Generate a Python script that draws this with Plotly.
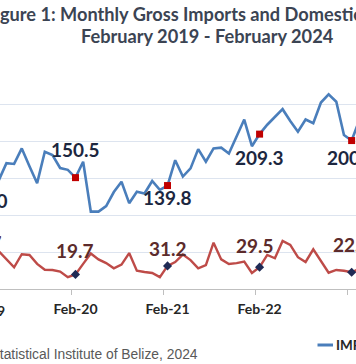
import plotly.graph_objects as go

# ---- data (month index 0 = Feb-19) ----
month_index = list(range(50))
imports = [136.0, 150.0, 147.0, 170.0, 169.0, 190.0, 166.0, 143.0, 185.5, 181.0,
           163.5, 161.0, 150.5, 172.0, 104.5, 104.5, 112.0, 131.0, 145.0, 116.0,
           131.5, 129.0, 146.0, 134.0, 139.8, 174.0, 152.0, 163.0, 189.0, 172.0,
           190.0, 191.0, 183.0, 207.0, 229.0, 193.0, 209.3, 222.0, 232.0, 243.0,
           227.0, 212.5, 229.0, 224.0, 252.0, 263.0, 253.0, 208.0, 200.6, 228.0]
exports = [30.7, 40.0, 51.0, 40.5, 29.3, 47.0, 46.0, 34.0, 26.0, 25.7,
           23.6, 16.0, 19.7, 34.0, 48.0, 40.0, 35.0, 28.0, 33.0, 48.6,
           24.7, 23.0, 21.6, 16.0, 31.2, 36.5, 46.6, 39.0, 28.0, 32.4,
           62.6, 40.0, 33.8, 35.0, 37.0, 21.6, 29.5, 46.0, 41.5, 65.0,
           59.5, 43.0, 36.5, 53.6, 37.0, 22.0, 25.7, 24.7, 22.6, 27.0]
feb_index = [0, 12, 24, 36, 48]
feb_labels = ["Feb-19", "Feb-20", "Feb-21", "Feb-22", "Feb-23"]

title_line1 = "Figure 1: Monthly Gross Imports and Domestic Exports"
title_line2 = "February 2019 - February 2024"
source_text = "Source: Statistical Institute of Belize, 2024"
legend_text = "IMPORTS"

# ---- styling / layout (pixels) ----
W, H = 356, 364
M_T, M_B = 67, 75
PLOT_H = H - M_T - M_B
X_RANGE = [2.16, 48.57]
imp_label_shift = [-12, 28, -12, -23, -17]     # label offsets in px (up +)
exp_label_shift = [24, 24, 17, 22, 28]
exp_label_xshift = [0, 0, 0, -5, 0]

BLUE = "#4a7ebb"
RED = "#be4b48"
LAB_FONT = "Lato"


def px_x(px):
    return px / W


def px_y(py):
    return (H - M_B - py) / PLOT_H


def x_frac(k):
    return (k - X_RANGE[0]) / (X_RANGE[1] - X_RANGE[0])


fig = go.Figure()
fig.add_trace(go.Scatter(x=month_index, y=imports, mode="lines",
                         line=dict(color=BLUE, width=2.6), showlegend=False))
fig.add_trace(go.Scatter(x=month_index, y=exports, mode="lines",
                         line=dict(color=RED, width=2.4), showlegend=False))
fig.add_trace(go.Scatter(x=feb_index, y=[imports[i] for i in feb_index], mode="markers",
                         marker=dict(symbol="square", size=7, color="#c00000"),
                         showlegend=False))
fig.add_trace(go.Scatter(x=feb_index, y=[exports[i] for i in feb_index], mode="markers",
                         marker=dict(symbol="diamond", size=7, color="#1f2a55"),
                         showlegend=False))

annotations = []
for j, k in enumerate(feb_index):
    inside = X_RANGE[0] <= k <= X_RANGE[1]
    xref = "x" if inside else "paper"
    xv = k if inside else x_frac(k)
    annotations.append(dict(x=xv, xref=xref, y=imports[k], yref="y",
                            text=f"{imports[k]:.1f}", showarrow=False,
                            yanchor="middle", xanchor="center",
                            yshift=imp_label_shift[j],
                            font=dict(family=LAB_FONT, size=19, weight="bold", color="#1c2740")))
    annotations.append(dict(x=xv, xref=xref, y=exports[k], yref="y",
                            text=f"{exports[k]:.1f}", showarrow=False,
                            yanchor="middle", xanchor="center",
                            yshift=exp_label_shift[j], xshift=exp_label_xshift[j],
                            font=dict(family=LAB_FONT, size=19, weight="bold", color="#5c2b2b")))
    if not inside:
        annotations.append(dict(x=x_frac(k), xref="paper", y=px_y(310), yref="paper",
                                text=feb_labels[j], showarrow=False,
                                yanchor="middle", xanchor="center",
                                font=dict(family=LAB_FONT, size=14, weight="bold", color="#262626")))

annotations += [
    dict(x=px_x(207.5), y=px_y(14), xref="paper", yref="paper", text=title_line1,
         showarrow=False, xanchor="center", yanchor="middle",
         font=dict(family=LAB_FONT, size=18.2, weight="bold", color="#3b4453")),
    dict(x=px_x(207.5), y=px_y(36), xref="paper", yref="paper", text=title_line2,
         showarrow=False, xanchor="center", yanchor="middle",
         font=dict(family=LAB_FONT, size=18.2, weight="bold", color="#3b4453")),
    dict(x=px_x(199.5), y=px_y(354), xref="paper", yref="paper", text=source_text,
         showarrow=False, xanchor="right", yanchor="middle",
         font=dict(family="Liberation Sans", size=13.85, color="#595959")),
    dict(x=px_x(334), y=px_y(345), xref="paper", yref="paper", text=legend_text,
         showarrow=False, xanchor="left", yanchor="middle",
         font=dict(family=LAB_FONT, size=13.5, weight="bold", color="#262626")),
]

fig.update_layout(
    width=W, height=H,
    margin=dict(l=0, r=0, t=M_T, b=M_B, autoexpand=False),
    paper_bgcolor="white", plot_bgcolor="white",
    annotations=annotations,
    shapes=[dict(type="line", xref="paper", yref="paper",
                 x0=px_x(317.5), x1=px_x(333), y0=px_y(345), y1=px_y(345),
                 line=dict(color=BLUE, width=3))],
    xaxis=dict(range=X_RANGE, tickmode="array", tickvals=feb_index, ticktext=feb_labels,
               ticks="", showgrid=False, zeroline=False, ticklabelstandoff=7,
               showline=True, linecolor="#bfbfbf", linewidth=1,
               tickfont=dict(family=LAB_FONT, size=14, weight="bold", color="#262626"),
               minor=dict(tickmode="array", tickvals=[k - 0.5 for k in feb_index],
                          ticks="outside", ticklen=5, tickcolor="#bfbfbf", showgrid=False)),
    yaxis=dict(range=[0, 300], dtick=50, showgrid=True, gridcolor="#dde4ef", gridwidth=1,
               showticklabels=False, zeroline=False, ticks=""),
)

fig.write_html("out.html", config={"displayModeBar": False},
               post_script="document.body.style.margin='0';document.body.style.overflow='hidden';")
